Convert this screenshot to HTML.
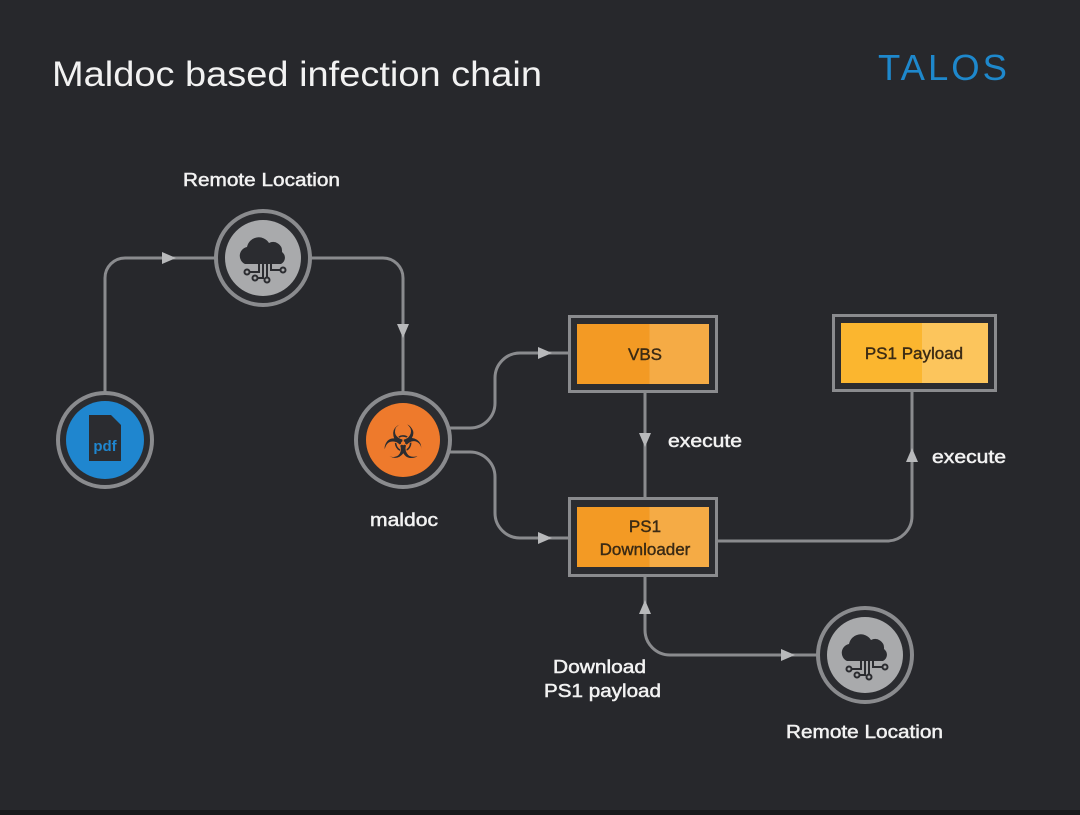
<!DOCTYPE html>
<html><head><meta charset="utf-8"><style>
html,body{margin:0;padding:0;background:#27282c;}
svg{display:block;}
text{font-family:"Liberation Sans",sans-serif;}
</style></head><body>
<svg width="1080" height="815" viewBox="0 0 1080 815" xmlns="http://www.w3.org/2000/svg">
<defs>
<linearGradient id="org" x1="0" x2="1"><stop offset="0.55" stop-color="#f39a24"/><stop offset="0.55" stop-color="#f5ab45"/></linearGradient>
<linearGradient id="yel" x1="0" x2="1"><stop offset="0.55" stop-color="#fbb62f"/><stop offset="0.55" stop-color="#fcc55c"/></linearGradient>
<g id="cloud">
<circle r="47" fill="#2b2c30" stroke="#8a8b8e" stroke-width="4"/>
<circle r="38" fill="#a9aaac"/>
<path d="M-18 6 a9 9 0 0 1 2 -17 a12 12 0 0 1 22 -4 a9 9 0 0 1 13 9 a7 7 0 0 1 -1 12 z" fill="#2b2c30"/>
<g stroke="#2b2c30" stroke-width="2" fill="none"><path d="M-4 6 v8 h-10"/><path d="M0 6 v14 h-6"/><path d="M4 6 v14"/><path d="M8 6 v6 h10"/></g>
<g fill="#a9aaac" stroke="#2b2c30" stroke-width="2"><circle cx="-16" cy="14" r="2.5"/><circle cx="-8" cy="20" r="2.5"/><circle cx="4" cy="22" r="2.5"/><circle cx="20" cy="12" r="2.5"/></g>
</g>
</defs>
<rect x="0" y="810" width="1080" height="5" fill="#18191b"/>
<text x="52" y="86" font-size="35" fill="#f2f2f2" textLength="490" lengthAdjust="spacingAndGlyphs">Maldoc based infection chain</text>
<text x="878" y="80" font-size="36" fill="#1e88cc" letter-spacing="3" textLength="132" lengthAdjust="spacingAndGlyphs">TALOS</text>

<g stroke="#8a8b8e" stroke-width="3" fill="none">
<path d="M105 393 V278 a20 20 0 0 1 20 -20 H216"/>
<path d="M310 258 H383 a20 20 0 0 1 20 20 V393"/>
<path d="M450 428 H470 a25 25 0 0 0 25 -25 V378 a25 25 0 0 1 25 -25 H568"/>
<path d="M450 452 H470 a25 25 0 0 1 25 25 V513 a25 25 0 0 0 25 25 H568"/>
<path d="M645 393 V497"/>
<path d="M718 541 H887 a25 25 0 0 0 25 -25 V392"/>
<path d="M645 577 V630 a25 25 0 0 0 25 25 H818"/>
</g>
<g fill="#b8b9bb">
<path d="M162 252 L176 258 L162 264 z"/>
<path d="M397 324 L403 338 L409 324 z"/>
<path d="M538 347 L552 353 L538 359 z"/>
<path d="M538 532 L552 538 L538 544 z"/>
<path d="M639 433 L645 447 L651 433 z"/>
<path d="M906 462 L912 448 L918 462 z"/>
<path d="M639 614 L645 600 L651 614 z"/>
<path d="M781 649 L795 655 L781 661 z"/>
</g>

<use href="#cloud" x="263" y="258"/>
<use href="#cloud" x="865" y="655"/>

<circle cx="105" cy="440" r="47" fill="#2b2c30" stroke="#8a8b8e" stroke-width="4"/>
<circle cx="105" cy="440" r="39" fill="#1f86cf"/>
<path d="M89 415 h22 l10 10 v36 h-32 z" fill="#2b2c30"/>
<text x="105" y="451" font-size="15" font-weight="bold" fill="#1f86cf" text-anchor="middle">pdf</text>

<circle cx="403" cy="440" r="47" fill="#2b2c30" stroke="#8a8b8e" stroke-width="4"/>
<circle cx="403" cy="440" r="37" fill="#ee7a2c"/>
<text x="403" y="458" font-size="46" fill="#2b2c30" text-anchor="middle">☣</text>

<rect x="569.5" y="316.5" width="147" height="75" fill="#2b2c30" stroke="#8a8b8e" stroke-width="3"/>
<rect x="577" y="324" width="132" height="60" fill="url(#org)"/>
<text x="645" y="360" font-size="17" fill="#3a2a14" stroke="#3a2a14" stroke-width="0.4" text-anchor="middle">VBS</text>

<rect x="569.5" y="498.5" width="147" height="77" fill="#2b2c30" stroke="#8a8b8e" stroke-width="3"/>
<rect x="577" y="507" width="132" height="60" fill="url(#org)"/>
<text x="645" y="532" font-size="17" fill="#3a2a14" stroke="#3a2a14" stroke-width="0.4" text-anchor="middle">PS1</text>
<text x="645" y="555" font-size="17" fill="#3a2a14" stroke="#3a2a14" stroke-width="0.4" text-anchor="middle">Downloader</text>

<rect x="833.5" y="315.5" width="162" height="75" fill="#2b2c30" stroke="#8a8b8e" stroke-width="3"/>
<rect x="841" y="323" width="147" height="60" fill="url(#yel)"/>
<text x="914" y="359" font-size="17" fill="#3a2a14" stroke="#3a2a14" stroke-width="0.4" text-anchor="middle">PS1 Payload</text>

<g fill="#f2f2f2" stroke="#f2f2f2" stroke-width="0.5" font-size="18">
<text x="183" y="186" textLength="157" lengthAdjust="spacingAndGlyphs">Remote Location</text>
<text x="370" y="526" textLength="68" lengthAdjust="spacingAndGlyphs">maldoc</text>
<text x="668" y="447" textLength="74" lengthAdjust="spacingAndGlyphs">execute</text>
<text x="932" y="463" textLength="74" lengthAdjust="spacingAndGlyphs">execute</text>
<text x="553" y="673" textLength="93" lengthAdjust="spacingAndGlyphs">Download</text>
<text x="544" y="697" textLength="117" lengthAdjust="spacingAndGlyphs">PS1 payload</text>
<text x="786" y="738" textLength="157" lengthAdjust="spacingAndGlyphs">Remote Location</text>
</g>
</svg>
</body></html>
